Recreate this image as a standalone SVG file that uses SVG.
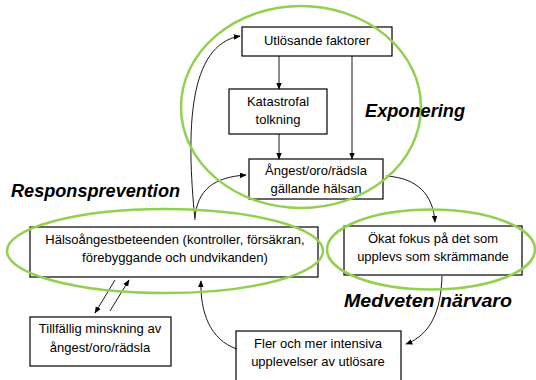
<svg xmlns="http://www.w3.org/2000/svg" width="536" height="380" viewBox="0 0 536 380">
<style>
.box{fill:#fff;stroke:#000;stroke-width:1.2}
.t{font-family:"Liberation Sans",Arial,sans-serif;font-size:13px;fill:#000;text-anchor:middle}
.lbl{font-family:"Liberation Sans",Arial,sans-serif;font-size:18px;font-weight:bold;font-style:italic;fill:#000}
.ring{fill:none;stroke:#92d050;stroke-width:2.5}
.c{fill:none;stroke:#000;stroke-width:0.9}
</style>
<defs>
<marker id="ah" viewBox="0 0 10 10" refX="9" refY="5" markerWidth="7" markerHeight="7" markerUnits="userSpaceOnUse" orient="auto">
<path d="M0,1 L10,5 L0,9 z" fill="#000"/>
</marker>
</defs>
<rect width="536" height="380" fill="#fff"/>
<g id="utlosande"><rect class="box" x="242" y="27" width="150" height="29"/><text class="t" x="317" y="45">Utlösande faktorer</text></g>
<g id="katastrofal"><rect class="box" x="229" y="89" width="98" height="45"/><text class="t" x="278" y="106">Katastrofal</text><text class="t" x="278" y="124">tolkning</text></g>
<g id="angest"><rect class="box" x="249" y="159" width="134" height="40"/><text class="t" x="316" y="175">Ångest/oro/rädsla</text><text class="t" x="316" y="193">gällande hälsan</text></g>
<g id="halso"><rect class="box" x="30" y="227" width="288" height="50"/><text class="t" x="175" y="244">Hälsoångestbeteenden (kontroller, försäkran,</text><text class="t" x="175" y="262">förebyggande och undvikanden)</text></g>
<g id="okat"><rect class="box" x="344" y="226" width="178" height="49"/><text class="t" x="433" y="243">Ökat fokus på det som</text><text class="t" x="433" y="261">upplevs som skrämmande</text></g>
<g id="tillfallig"><rect class="box" x="30" y="317" width="141" height="49"/><text class="t" x="100" y="333">Tillfällig minskning av</text><text class="t" x="100" y="352">ångest/oro/rädsla</text></g>
<g id="fler"><rect class="box" x="236" y="331" width="165" height="60"/><text class="t" x="318" y="348">Fler och mer intensiva</text><text class="t" x="318" y="366">upplevelser av utlösare</text></g>
<g id="connectors">
<line class="c" x1="279" y1="56" x2="279" y2="89" marker-end="url(#ah)"/>
<line class="c" x1="352" y1="56" x2="352" y2="159" marker-end="url(#ah)"/>
<line class="c" x1="279" y1="134" x2="279" y2="159" marker-end="url(#ah)"/>
<path class="c" d="M195,220 C186,130 188,45 240,36" marker-end="url(#ah)"/>
<path class="c" d="M195,218 C197,190 214,177 246,175" marker-end="url(#ah)"/>
<path class="c" d="M386,176 C418,178 433,195 435,222" marker-end="url(#ah)"/>
<path class="c" d="M442,276 C441,312 430,335 406,344" marker-end="url(#ah)"/>
<path class="c" d="M237,349 C210,340 200,312 201,281" marker-end="url(#ah)"/>
<line class="c" x1="115" y1="280" x2="95" y2="313" marker-end="url(#ah)"/>
<line class="c" x1="110" y1="311" x2="129" y2="280" marker-end="url(#ah)"/>
</g>
<g id="rings">
<ellipse class="ring" cx="301" cy="107" rx="120" ry="101"/>
<ellipse class="ring" cx="165" cy="251" rx="158" ry="42"/>
<ellipse class="ring" cx="431" cy="249.5" rx="104" ry="40"/>
</g>
<g id="labels">
<text class="lbl" x="365" y="117" textLength="100" lengthAdjust="spacingAndGlyphs">Exponering</text>
<text class="lbl" x="11" y="197" textLength="169" lengthAdjust="spacingAndGlyphs">Responsprevention</text>
<text class="lbl" x="344" y="307" textLength="168" lengthAdjust="spacingAndGlyphs">Medveten närvaro</text>
</g>
</svg>
